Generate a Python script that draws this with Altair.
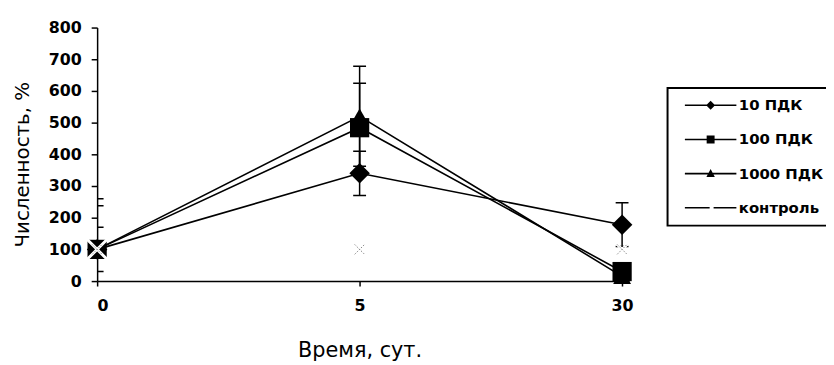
import altair as alt
import pandas as pd

# ---- data ----
days = ["0", "5", "30"]
x_index = [0, 1, 2]
series_names = ["10 ПДК", "100 ПДК", "1000 ПДК", "контроль"]
mean_10 = [100, 340, 178]
err_10 = [70, 70, 69]
mean_100 = [100, 484, 30]
err_100 = [138, 140, 25]
mean_1000 = [100, 520, 15]
err_1000 = [160, 158, 20]
mean_ctrl = [100, 100, 100]
y_ticks = [0, 100, 200, 300, 400, 500, 600, 700, 800]

rows = []
for name, m, e in zip(series_names[:3], [mean_10, mean_100, mean_1000], [err_10, err_100, err_1000]):
    for i, d in enumerate(days):
        rows.append(dict(series=name, idx=x_index[i], day=d, y=m[i], lo=m[i] - e[i], hi=m[i] + e[i]))
df = pd.DataFrame(rows)
ctrl = pd.DataFrame(dict(series=["контроль"] * 3, idx=x_index, y=mean_ctrl))

LBL = "DejaVu Sans"

x_axis = alt.Axis(
    values=x_index, labelExpr=f"{days}[datum.value]", title="Время, сут.",
    grid=False, tickSize=5, labelPadding=12, labelFont=LBL, labelFontSize=16,
    labelFontWeight="bold", titleFont=LBL, titleFontSize=21, titleFontWeight="normal",
    titleX=265, titleY=70, titleBaseline="middle",
)
y_axis = alt.Axis(
    values=y_ticks, title="Численность, %", grid=False, tickSize=6, labelPadding=10,
    labelFont=LBL, labelFontSize=16, labelFontWeight="bold",
    titleFont=LBL, titleFontSize=20, titleFontWeight="normal",
    titleX=-75, titleY=138, titleBaseline="middle", titleAngle=-90,
)
xs = alt.Scale(domain=[0, 2.026], nice=False, zero=False)
ys = alt.Scale(domain=[0, 800], nice=False)

X = alt.X("idx:Q", scale=xs, axis=x_axis)

lines = alt.Chart(df).mark_line(color="black", strokeWidth=1.6).encode(
    x=X, y=alt.Y("y:Q", scale=ys, axis=y_axis), detail="series:N"
)
ebar = alt.Chart(df).mark_rule(color="black", strokeWidth=1.5, clip=True).encode(
    x=X, y=alt.Y("lo:Q", scale=ys, axis=y_axis), y2="hi:Q"
)
cap_lo = alt.Chart(df).mark_rule(color="black", strokeWidth=1.5, clip=True, xOffset=-6.5, x2Offset=6.5).encode(
    x=X, x2="idx:Q", y=alt.Y("lo:Q", scale=ys, axis=y_axis)
)
cap_hi = alt.Chart(df).mark_rule(color="black", strokeWidth=1.5, clip=True, xOffset=-6.5, x2Offset=6.5).encode(
    x=X, x2="idx:Q", y=alt.Y("hi:Q", scale=ys, axis=y_axis)
)
markers = alt.Chart(df).mark_point(filled=True, color="black", opacity=1).encode(
    x=X, y=alt.Y("y:Q", scale=ys, axis=y_axis),
    shape=alt.Shape("series:N", scale=alt.Scale(domain=series_names[:3], range=["diamond", "square", "triangle-up"]), legend=None),
    size=alt.Size("series:N", scale=alt.Scale(domain=series_names[:3], range=[430, 324, 400]), legend=None),
)
XPATH = "M-1,-1L1,1M-1,1L1,-1"
ctrl_white = alt.Chart(ctrl).mark_point(shape=XPATH, filled=False, stroke="white", strokeWidth=3, size=484, opacity=1).encode(
    x=X, y=alt.Y("y:Q", scale=ys, axis=y_axis)
)
ctrl_grey = alt.Chart(ctrl).mark_point(shape=XPATH, filled=False, stroke="#888888", strokeWidth=1, strokeDash=[1.5, 1.5], size=100, opacity=1).encode(
    x=X, y=alt.Y("y:Q", scale=ys, axis=y_axis)
)

# legend symbols: filled paths (line drawn as a thin filled bar) in units of 5 px
BAR = "M-5.2,-0.16H5.2V0.16H-5.2Z"
legend_paths = [
    BAR + "M0,-0.9L0.9,0L0,0.9L-0.9,0Z",
    BAR + "M-0.8,-0.8L0.8,-0.8L0.8,0.8L-0.8,0.8Z",
    BAR + "M0,-0.95L0.85,0.7L-0.85,0.7Z",
    "M-5.2,-0.16H-0.2V0.16H-5.2ZM0.6,-0.16H5.2V0.16H0.6Z",
]
legend_layer = alt.Chart(df).transform_filter("false").mark_point(
    filled=True, color="black", opacity=1
).encode(
    x=X, y=alt.Y("y:Q", scale=ys, axis=y_axis),
    shape=alt.Shape("series:N", scale=alt.Scale(domain=series_names, range=legend_paths),
                    legend=alt.Legend(
                        title=None, orient="none", legendX=576, legendY=61,
                        symbolFillColor="black", symbolOpacity=1,
                    )),
)

chart = alt.layer(lines, ebar, cap_lo, cap_hi, markers, ctrl_white, ctrl_grey, legend_layer).resolve_scale(
    shape="independent", size="independent"
).properties(
    width=537, height=256,
    autosize=alt.AutoSizeParams(type="none"),
    padding={"left": 90, "top": 18, "right": 199, "bottom": 83},
    background="white",
).configure_view(stroke=None).configure_axis(
    domainColor="black", domainWidth=1.5, tickColor="black", tickWidth=1.5,
    labelColor="black", titleColor="black",
).configure_legend(
    padding=10, strokeColor="black", strokeWidth=2, fillColor="white",
    symbolSize=100, symbolStrokeWidth=0, symbolOffset=26, labelOffset=21,
    rowPadding=18.5, labelFont=LBL, labelFontSize=15, labelFontWeight="bold",
    labelColor="black", labelLimit=400, symbolFillColor="black",
)

chart.save("out.html", embed_options={"renderer": "svg", "actions": False})
